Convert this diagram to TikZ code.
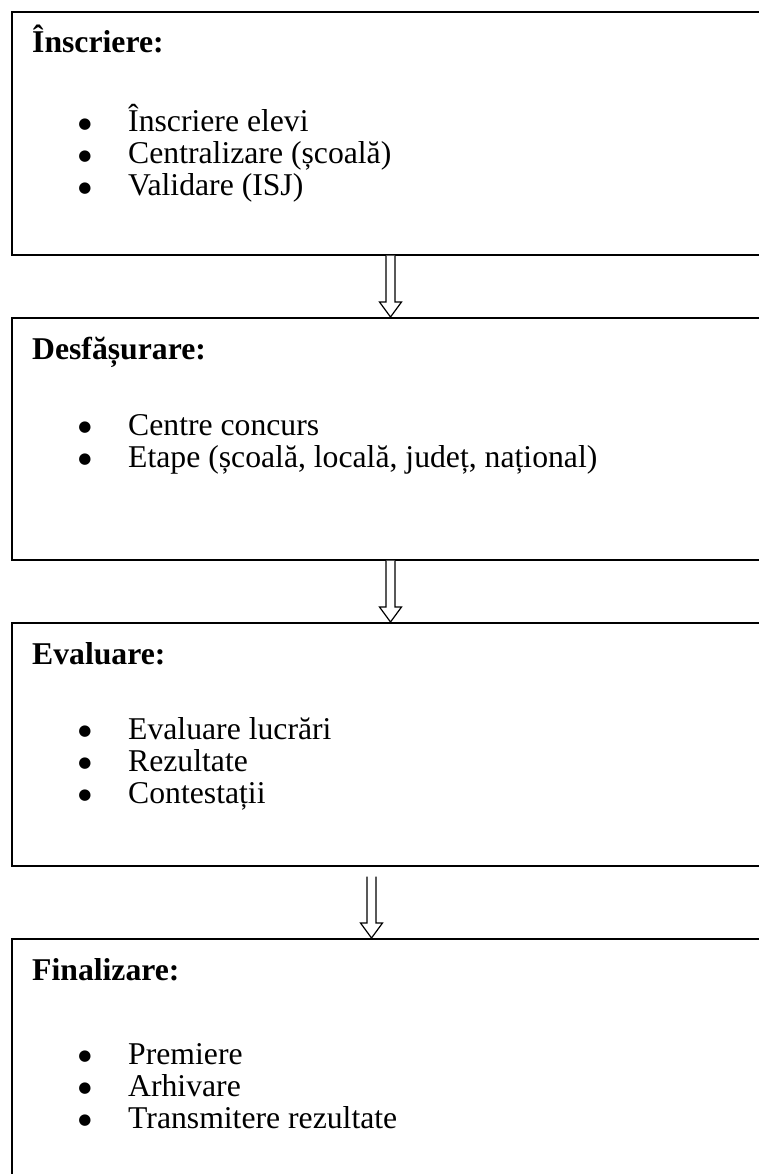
\documentclass[tikz,border=0pt]{standalone}
\usepackage{fontspec}
\setmainfont{Liberation Serif}
\newfontfamily\dejavu{DejaVu Sans}
\usetikzlibrary{calc}
\tikzset{
  box/.style={draw=black, line width=1.6pt, rectangle, inner sep=0pt, anchor=north west, minimum width=780pt},
  head/.style={anchor=base west, inner sep=0pt, font=\fontsize{31.7}{32}\selectfont\bfseries},
  item/.style={anchor=base west, inner sep=0pt, font=\fontsize{31.7}{32}\selectfont},
  bulletdot/.style={anchor=center, inner sep=0pt, font=\dejavu\fontsize{15}{15}\selectfont},
  hollow/.style={draw=black, line width=1.2pt, fill=white, line join=miter}
}
\newcommand{\hollowarrow}[2]{%
  \draw[hollow] let \p1=(#1), \p2=(#2) in
    (\x1-4.5pt,\y1) -- (\x1-4.5pt,\y2+15pt) -- (\x1-11pt,\y2+15pt) -- (\x2,\y2)
    -- (\x1+11pt,\y2+15pt) -- (\x1+4.5pt,\y2+15pt) -- (\x1+4.5pt,\y1);}
\newcommand{\entry}[3]{%
  \node[item] (#1) at (128,#2) {#3};
  \node[bulletdot] (#1b) at (85,#2-7.5) {●};}
\begin{document}
\begin{tikzpicture}[x=1pt,y=-1pt]
\useasboundingbox (0,0) rectangle (759,1174);
\clip (0,0) rectangle (759,1174);
% boxes
\node[box, minimum height=243pt] (b1) at (11,11) {};
\node[box, minimum height=242pt] (b2) at (11,317) {};
\node[box, minimum height=243pt] (b3) at (11,622) {};
\node[box, minimum height=300pt] (b4) at (11,938) {};
% box 1
\node[head] (h1) at (32,53) {Înscriere:};
\entry{i11}{132}{Înscriere elevi}
\entry{i12}{164}{Centralizare (școală)}
\entry{i13}{196}{Validare (ISJ)}
% box 2
\node[head] (h2) at (32,359) {Desfășurare:};
\entry{i21}{435}{Centre concurs}
\entry{i22}{467}{Etape (școală, locală, județ, național)}
% box 3
\node[head] (h3) at (32,664) {Evaluare:};
\entry{i31}{739}{Evaluare lucrări}
\entry{i32}{771}{Rezultate}
\entry{i33}{803}{Contestații}
% box 4
\node[head] (h4) at (32,980) {Finalizare:};
\entry{i41}{1064}{Premiere}
\entry{i42}{1096}{Arhivare}
\entry{i43}{1128}{Transmitere rezultate}
% arrows
\coordinate (a1s) at ($(b1.south west)+(379.5,0)$);
\coordinate (a1t) at ($(b2.north west)+(379.5,0)$);
\coordinate (a2s) at ($(b2.south west)+(379.5,0)$);
\coordinate (a2t) at ($(b3.north west)+(379.5,0)$);
\coordinate (a3s) at ($(b3.south west)+(360.5,10)$);
\coordinate (a3t) at ($(b4.north west)+(360.5,0)$);
\hollowarrow{a1s}{a1t}
\hollowarrow{a2s}{a2t}
\hollowarrow{a3s}{a3t}
\end{tikzpicture}
\end{document}
